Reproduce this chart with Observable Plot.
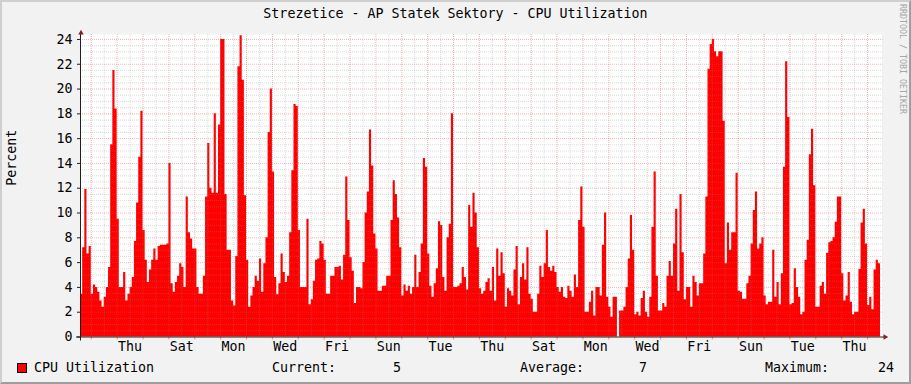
<!DOCTYPE html>
<html><head><meta charset="utf-8">
<script src="https://cdn.jsdelivr.net/npm/d3@7"></script>
<script src="https://cdn.jsdelivr.net/npm/@observablehq/plot@0.6"></script>
<style>
html,body{margin:0;padding:0;background:#f2f2f2;}
#wrap{position:relative;width:911px;height:384px;background:#f2f2f2;overflow:hidden;font-family:"DejaVu Sans Mono",monospace;color:#000;}
#title{position:absolute;left:0;top:6px;width:911px;text-align:center;font-size:13.3px;line-height:16px;white-space:pre;}
#chart{position:absolute;left:0;top:24px;}
.lg{position:absolute;top:360px;font-size:13.3px;line-height:16px;white-space:pre;}
#sw{position:absolute;left:17px;top:363px;width:8px;height:8px;background:#ff0000;border:1px solid #000;}
#wm{position:absolute;left:898px;top:4px;writing-mode:vertical-rl;font-size:8.3px;line-height:9px;color:#a5a5a5;white-space:pre;}
#frame{position:absolute;left:0;top:0;width:911px;height:384px;box-sizing:border-box;border-top:2px solid #cfcfcf;border-left:2px solid #cfcfcf;border-right:2px solid #9e9e9e;border-bottom:2px solid #9e9e9e;pointer-events:none;}
</style>
</head>
<body>
<div id="wrap">
  <div id="title"></div>
  <div id="chart"></div>
  <div id="sw"></div>
  <div id="legend"></div>
  <div id="wm"></div>
  <div id="frame"></div>
</div>
<script>
// ---- data ----
const titleText = "Strezetice - AP Statek Sektory - CPU Utilization";
const seriesName = "CPU Utilization";
const yLabel = "Percent";
const watermark = "RRDTOOL / TOBI OETIKER";
// 2-hour samples starting Tue 2024-01-02 14:00 UTC
const startTime = new Date(Date.UTC(2024, 0, 2, 14));
const stepHours = 2;
const cpu = [
 3.45,7.2,11.9,6.7,7.3,3.45,4.2,4.0,3.6,2.9,2.4,3.2,4.0,5.6,15.5,21.5,18.4,9.5,4.0,4.0,
 5.2,2.9,3.45,4.0,4.8,7.7,10.8,14.5,18.2,8.6,6.2,4.4,5.4,6.2,7.1,6.2,7.3,7.4,7.4,7.4,
 7.5,14.0,4.3,3.6,4.4,4.9,5.9,5.6,4.0,11.3,8.4,7.9,7.1,7.1,4.0,3.45,3.45,4.9,11.3,15.6,
 12.0,11.6,18.0,11.6,17.1,24.0,24.0,11.5,7.0,7.0,2.9,2.5,6.5,21.8,24.3,20.7,11.4,6.2,2.4,3.3,
 4.0,4.9,4.5,6.3,3.6,5.9,8.0,16.5,20.0,13.3,4.8,3.4,4.3,6.7,5.2,4.4,4.9,8.4,13.4,18.75,
 18.6,8.6,4.0,4.0,4.0,9.5,2.6,3.0,4.5,6.2,6.3,7.7,7.5,6.2,3.45,3.45,4.9,4.9,5.6,5.6,
 5.7,4.6,6.6,12.9,9.4,6.4,5.3,2.7,4.0,4.0,3.9,6.0,10.0,11.7,16.7,13.8,8.3,7.1,
 3.7,3.7,4.1,4.1,4.9,4.9,9.4,12.6,11.5,9.6,7.2,3.3,4.2,3.7,4.1,3.45,4.0,6.6,4.0,5.2,
 7.5,14.4,13.7,6.7,4.1,3.2,4.3,5.5,9.3,9.0,4.8,3.7,8.0,9.1,18.0,4.0,4.0,4.1,4.3,5.6,
 4.8,3.8,10.6,8.85,11.6,10.0,7.2,3.9,3.45,3.7,4.4,4.7,3.7,5.6,2.9,7.1,4.9,6.8,5.1,2.4,
 3.9,3.7,3.3,5.4,7.3,2.6,4.8,5.9,4.6,7.2,3.45,3.05,2.0,2.0,3.45,5.7,4.8,5.9,8.6,5.6,
 5.3,5.7,5.2,4.0,3.6,4.0,3.2,3.1,4.1,3.7,3.2,5.0,4.0,9.4,12.1,8.85,2.0,2.0,2.8,3.7,
 1.7,4.0,4.0,3.3,7.4,10.0,3.2,2.4,1.6,3.2,3.2,null,2.1,2.1,2.4,4.0,6.3,9.8,7.0,1.8,
 2.0,1.7,
 3.1,3.7,2.0,1.6,3.2,8.85,13.3,4.9,2.1,2.1,2.7,2.4,4.9,6.1,4.9,7.5,10.3,3.7,11.5,6.8,
 3.0,4.0,4.0,2.4,4.9,4.4,3.3,4.3,4.3,6.7,11.3,21.6,23.6,24.0,23.0,22.6,23.0,23.0,17.4,5.9,
 9.2,7.0,8.4,8.4,13.2,3.7,3.6,3.05,3.05,4.3,4.9,7.5,10.2,11.7,7.1,7.5,8.0,3.3,2.6,2.8,
 2.8,7.0,3.2,4.4,2.6,5.1,13.7,22.2,17.7,2.6,2.7,5.5,4.0,3.2,1.8,2.0,6.2,7.8,14.7,16.75,
 12.2,2.4,2.4,4.1,4.4,3.45,6.75,7.6,7.7,8.0,9.25,11.3,11.3,5.1,2.9,3.3,5.2,2.8,1.8,2.0,
 2.0,5.45,9.2,10.3,7.5,2.55,3.2,2.2,5.4,6.2,5.9
];
const firstLabelDay = new Date(Date.UTC(2024, 0, 4)); // Thursday
const tickLabels = ["Thu","Sat","Mon","Wed","Fri","Sun","Tue","Thu","Sat","Mon","Wed","Fri","Sun","Tue","Thu"];
const yTicks = [0,2,4,6,8,10,12,14,16,18,20,22,24];
const yMax = 24.4;
const legendStats = [
  {label: "Current:", value: "5"},
  {label: "Average:", value: "7"},
  {label: "Maximum:", value: "24"}
];

// ---- build ----
const H = 3600e3;
const endTime = new Date(+startTime + cpu.length * stepHours * H);
const rows = cpu.flatMap((v, i) => [
  {t: new Date(+startTime + i * stepHours * H), v},
  {t: new Date(+startTime + (i + 1) * stepHours * H), v}
]);
const dayLines = d3.utcDay.range(d3.utcDay.ceil(startTime), endTime);
const noonLines = d3.utcHour.range(startTime, endTime).filter(d => d.getUTCHours() === 12);
const labelTimes = tickLabels.map((_, i) => new Date(+firstLabelDay + (i * 48 + 12) * H));
const minorY = d3.range(0.5, yMax, 0.5).filter(v => v % 2 !== 0);
const majorY = yTicks.filter(v => v > 0);

const gridMinor = {stroke: "#8f8f8f", strokeOpacity: 0.32, strokeDasharray: "1,1"};
const gridMajor = {stroke: "#de4f4f", strokeOpacity: 0.42, strokeDasharray: "1,1"};

const plot = Plot.plot({
  width: 911, height: 336,
  marginLeft: 80, marginRight: 31, marginTop: 10, marginBottom: 23.5,
  style: {background: "transparent", fontFamily: '"DejaVu Sans Mono", monospace', fontSize: "13.3px", color: "#000", overflow: "visible"},
  x: {type: "utc", domain: [startTime, endTime], axis: null},
  y: {domain: [0, yMax], axis: null},
  marks: [
    Plot.frame({fill: "#ffffff", insetRight: -1.5}),
    Plot.areaY(rows, {x: "t", y1: () => 0, y2: "v", fill: "#ff0000", curve: "linear"}),
    Plot.ruleY(minorY, {...gridMinor, insetRight: -2.5}),
    Plot.ruleX(noonLines, gridMinor),
    Plot.ruleY(majorY, {...gridMajor, insetRight: -2.5}),
    Plot.ruleX(dayLines, gridMajor),
    Plot.ruleX(dayLines, {y1: () => 0, y2: () => 0, insetBottom: -3, stroke: "#de4f4f", strokeOpacity: 0.6}),
    Plot.ruleY(yTicks, {x1: () => startTime, x2: () => startTime, insetLeft: -3, stroke: "#1f1f1f"}),
    Plot.ruleY([0], {stroke: "#1f1f1f", insetLeft: -4, insetRight: -4}),
    Plot.ruleX([startTime], {stroke: "#1f1f1f", insetBottom: -4}),
    Plot.dot([{t: endTime, v: 0}], {x: "t", y: "v", symbol: "triangle", r: 2, rotate: 90, dx: 4.6, fill: "#801f1f", stroke: "none"}),
    Plot.dot([{t: startTime, v: yMax}], {x: "t", y: "v", symbol: "triangle", r: 2, dx: 0.5, dy: -1.6, fill: "#801f1f", stroke: "none"}),
    Plot.text(yTicks, {x: () => startTime, y: d => d, text: d => String(d), textAnchor: "end", dx: -8, fill: "#000"}),
    Plot.text(tickLabels, {x: (d, i) => labelTimes[i], y: () => 0, text: d => d, lineAnchor: "top", dy: 4.5, fill: "#000"}),
    Plot.text([yLabel], {frameAnchor: "left", text: d => d, dx: -69, rotate: -90, fill: "#000"})
  ]
});
document.getElementById("chart").appendChild(plot);

document.getElementById("title").textContent = titleText;
document.getElementById("wm").textContent = watermark;

const legend = document.getElementById("legend");
const addSpan = (text, left) => {
  const s = document.createElement("span");
  s.className = "lg"; s.textContent = text; s.style.left = left + "px";
  legend.appendChild(s);
};
addSpan(seriesName, 34);
const labelLefts = [272, 520, 765];
const valueRights = [401, 647, 894];
legendStats.forEach((d, i) => {
  addSpan(d.label, labelLefts[i]);
  const s = document.createElement("span");
  s.className = "lg"; s.textContent = d.value;
  s.style.right = (911 - valueRights[i]) + "px";
  legend.appendChild(s);
});
</script>
</body></html>
